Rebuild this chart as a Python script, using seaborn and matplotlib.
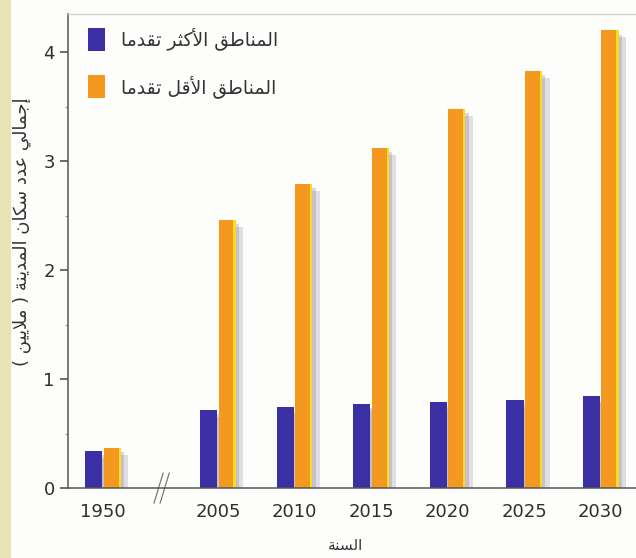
import numpy as np
import pandas as pd
import seaborn as sns
import matplotlib.pyplot as plt
import matplotlib.patheffects as pe
from matplotlib.patches import Rectangle
from matplotlib.transforms import blended_transform_factory

# values (millions)
years = [1950, 2005, 2010, 2015, 2020, 2025, 2030]
more_developed = [0.34, 0.72, 0.74, 0.77, 0.79, 0.81, 0.84]
less_developed = [0.37, 2.46, 2.79, 3.12, 3.48, 3.83, 4.20]
region_names = ['المناطق الأكثر تقدما', 'المناطق الأقل تقدما']
x_title = 'السنة'
y_title = 'إجمالي عدد سكان المدينة ( ملايين )'

# matplotlib does no Arabic shaping, so pick the joined glyph forms by hand
# letter -> (isolated form, number of forms); 2 = joins only to the right, 4 = joins both sides
FORMS = {
    'ا': (0xFE8D, 2), 'أ': (0xFE83, 2), 'إ': (0xFE87, 2), 'ة': (0xFE93, 2),
    'د': (0xFEA9, 2), 'ر': (0xFEAD, 2),
    'ت': (0xFE95, 4), 'ث': (0xFE99, 4), 'ج': (0xFE9D, 4), 'س': (0xFEB1, 4),
    'ط': (0xFEC1, 4), 'ع': (0xFEC9, 4), 'ق': (0xFED5, 4), 'ك': (0xFED9, 4),
    'ل': (0xFEDD, 4), 'م': (0xFEE1, 4), 'ن': (0xFEE5, 4), 'ي': (0xFEF1, 4),
}
LAM_ALEF = {'ا': 0xFEFB, 'أ': 0xFEF7, 'إ': 0xFEF9}


def arabic(text):
    out = []
    i = 0
    while i < len(text):
        c = text[i]
        if c not in FORMS:
            out.append(c)
            i += 1
            continue
        prev = text[i - 1] if i > 0 else ' '
        joins_prev = prev in FORMS and FORMS[prev][1] == 4
        if c == 'ل' and i + 1 < len(text) and text[i + 1] in LAM_ALEF:
            out.append(chr(LAM_ALEF[text[i + 1]] + joins_prev))
            i += 2
            continue
        nxt = text[i + 1] if i + 1 < len(text) else ' '
        joins_next = FORMS[c][1] == 4 and nxt in FORMS
        base = FORMS[c][0]
        if joins_prev and joins_next:
            g = base + 3
        elif joins_prev:
            g = base + 1
        elif joins_next:
            g = base + 2
        else:
            g = base
        out.append(chr(g))
        i += 1
    # right to left: reverse, and mirror the brackets
    return ''.join(reversed(out)).translate(str.maketrans('()', ')('))


sns.set_style('ticks')
plt.rcParams['font.family'] = ['DejaVu Sans']

blue = '#3b30a3'
orange = '#f4991f'

# broken x axis: an extra half step between 1950 and 2005
n = len(years)
idx = np.arange(n)
slot = idx + np.where(idx > 0, 0.5, 0.0)
df = pd.DataFrame({
    'slot': np.tile(slot, 2),
    'value': more_developed + less_developed,
    'region': [arabic(region_names[0])] * n + [arabic(region_names[1])] * n,
})

fig = plt.figure(figsize=(6.36, 5.58), dpi=100)
fig.patch.set_facecolor('#fdfdfb')
# yellowish scan edge on the left
fig.patches.append(Rectangle((0, 0), 0.016, 1, transform=fig.transFigure,
                             color='#e8e4b4', zorder=-1))
ax = fig.add_axes([0.107, 0.1254, 0.893, 0.8495])
ax.set_facecolor('none')

sns.barplot(data=df, x='slot', y='value', hue='region', native_scale=True,
            width=0.48, gap=0.07, palette=[blue, orange], saturation=1,
            edgecolor='none', ax=ax)

shadow = [pe.SimplePatchShadow(offset=(2.5, -3), shadow_rgbFace='#8a7f9e', alpha=0.3),
          pe.SimplePatchShadow(offset=(5.5, -5), shadow_rgbFace='#8a7f9e', alpha=0.25),
          pe.Normal()]
bars = [p for p in ax.patches if p.get_height() > 0]
for p in bars:
    p.set_path_effects(shadow)
    if p.get_facecolor()[0] > 0.9:
        # yellow highlight on the right side of the orange bars
        s = p.get_width() * 0.13
        ax.add_patch(Rectangle((p.get_x() + p.get_width() - s, 0), s, p.get_height(),
                               color='#f6df1a', lw=0, zorder=p.get_zorder() + 0.1))

ax.set_xlim(-0.457, 6.96)
ax.set_ylim(0, 4.35)
ax.set_xticks(slot)
ax.set_xticklabels([str(y) for y in years])
ax.set_yticks([0, 1, 2, 3, 4])
ax.set_yticks(np.arange(0.5, 4.35, 1.0), minor=True)
ax.tick_params(axis='x', length=0, pad=11, labelsize=13, labelcolor='#2e2e2e')
ax.tick_params(axis='y', which='major', length=6, width=1.1, pad=3.5,
               labelsize=13, labelcolor='#2e2e2e', color='#444444')
ax.tick_params(axis='y', which='minor', length=2.5, width=0.8, color='#999999')

for side in ['left', 'bottom']:
    ax.spines[side].set_color('#555555')
    ax.spines[side].set_linewidth(1.1)
ax.spines['top'].set_color('#cfcfcf')
ax.spines['top'].set_linewidth(0.9)
ax.spines['right'].set_visible(False)

# "//" break marks on the x axis
mid = (slot[0] + slot[1]) / 2
trans = blended_transform_factory(ax.transData, ax.transAxes)
for dx in (-0.025, 0.055):
    ax.plot([mid + dx - 0.06, mid + dx + 0.06], [-0.032, 0.032], color='#7a7a7a',
            lw=0.9, transform=trans, clip_on=False)

ax.set_xlabel(arabic(x_title), fontsize=11, color='#333333')
ax.xaxis.set_label_coords(0.488, -0.105)
ax.set_ylabel(arabic(y_title), fontsize=13, color='#333333')
ax.yaxis.set_label_coords(-0.066, 0.54)

ax.legend(loc='upper left', bbox_to_anchor=(-0.01, 1.025), frameon=False, fontsize=13.5,
          handlelength=0.95, handleheight=1.5, handletextpad=0.85, labelspacing=1.3,
          borderpad=0.85, labelcolor='#333333')

fig.savefig('out.png', dpi=100, facecolor=fig.get_facecolor())
